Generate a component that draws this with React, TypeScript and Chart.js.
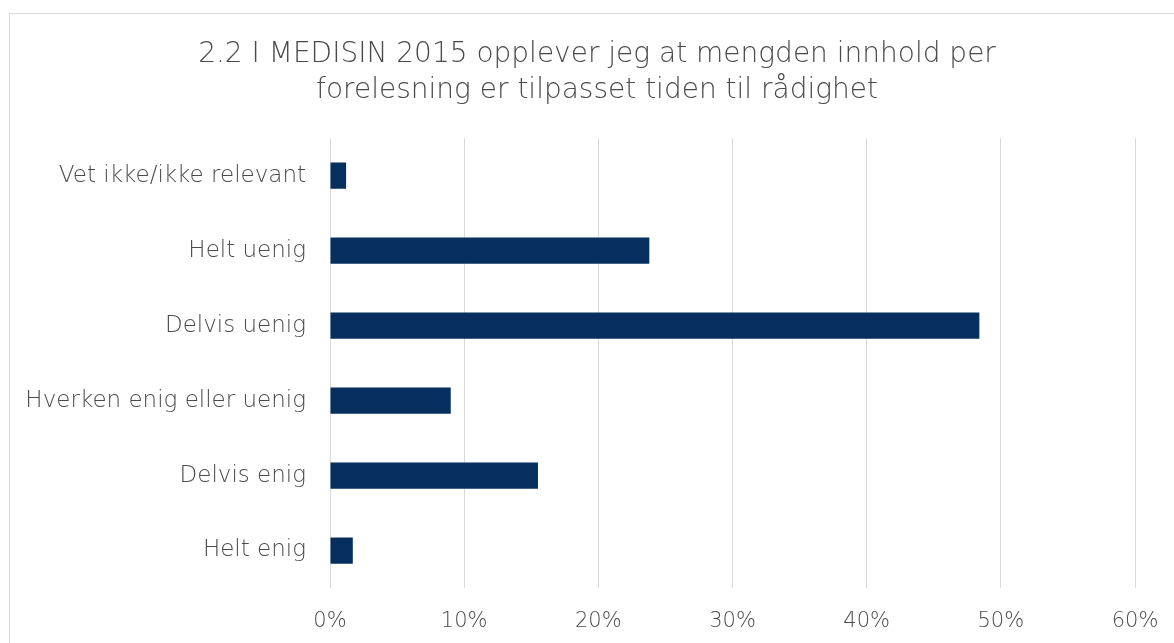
import React, { useEffect, useRef } from "react";
import { Chart, registerables } from "chart.js";

Chart.register(...registerables);

const categories = [
  "Vet ikke/ikke relevant",
  "Helt uenig",
  "Delvis uenig",
  "Hverken enig eller uenig",
  "Delvis enig",
  "Helt enig",
];
const values = [1.2, 23.8, 48.4, 9.0, 15.5, 1.7];
const titleLines = [
  "2.2 I MEDISIN 2015 opplever jeg at mengden innhold per",
  "forelesning er tilpasset tiden til rådighet",
];
const xMax = 60;
const xStep = 10;

const FONT = "'DejaVu Sans', sans-serif";
const TEXT = "#4a4a4a";

export default function App() {
  const ref = useRef<HTMLCanvasElement | null>(null);
  useEffect(() => {
    if (!ref.current) return;
    const chart = new Chart(ref.current, {
      type: "bar",
      data: {
        labels: categories,
        datasets: [
          {
            data: values,
            backgroundColor: "#062F5F",
            borderWidth: 0,
            barPercentage: 0.35,
            categoryPercentage: 1,
          },
        ],
      },
      options: {
        indexAxis: "y",
        animation: false,
        responsive: false,
        maintainAspectRatio: false,
        layout: { padding: { left: 10, right: 0, top: 0, bottom: 0 } },
        plugins: {
          legend: { display: false },
          tooltip: { enabled: false },
          title: {
            display: true,
            text: titleLines,
            color: TEXT,
            font: { family: FONT, size: 28, weight: "200", lineHeight: 1.29 },
            padding: { top: 23, bottom: 29 },
          },
        },
        scales: {
          x: {
            min: 0,
            max: xMax,
            ticks: {
              stepSize: xStep,
              color: TEXT,
              font: { family: FONT, size: 21, weight: "200" },
              padding: 21,
              callback: (v: any) => v + "%",
            },
            grid: { color: "#d9d9d9", lineWidth: 1, drawTicks: false },
            border: { display: false },
            afterFit: (s: any) => {
              s.height = 55;
              s.paddingLeft = 0;
              s.paddingRight = 0;
            },
          },
          y: {
            ticks: {
              color: TEXT,
              font: { family: FONT, size: 23, weight: "200" },
              padding: 24,
            },
            grid: { display: false, drawTicks: false },
            border: { display: false },
            afterFit: (s: any) => {
              s.width = 310;
              s.paddingTop = 0;
              s.paddingBottom = 0;
            },
          },
          r: {
            type: "linear",
            position: "right",
            display: true,
            ticks: { display: false },
            grid: { display: false, drawTicks: false },
            border: { display: false },
            afterFit: (s: any) => {
              s.width = 39;
            },
          },
        },
      },
    });
    return () => chart.destroy();
  }, []);
  return (
    <div
      style={{
        position: "absolute",
        left: 9,
        top: 13,
        width: 1165,
        height: 630,
        borderTop: "1px solid #d9d9d9",
        borderLeft: "1px solid #d9d9d9",
        boxSizing: "border-box",
        background: "#fff",
      }}
    >
      <canvas ref={ref} width={1164} height={629} style={{ display: "block" }} />
    </div>
  );
}
